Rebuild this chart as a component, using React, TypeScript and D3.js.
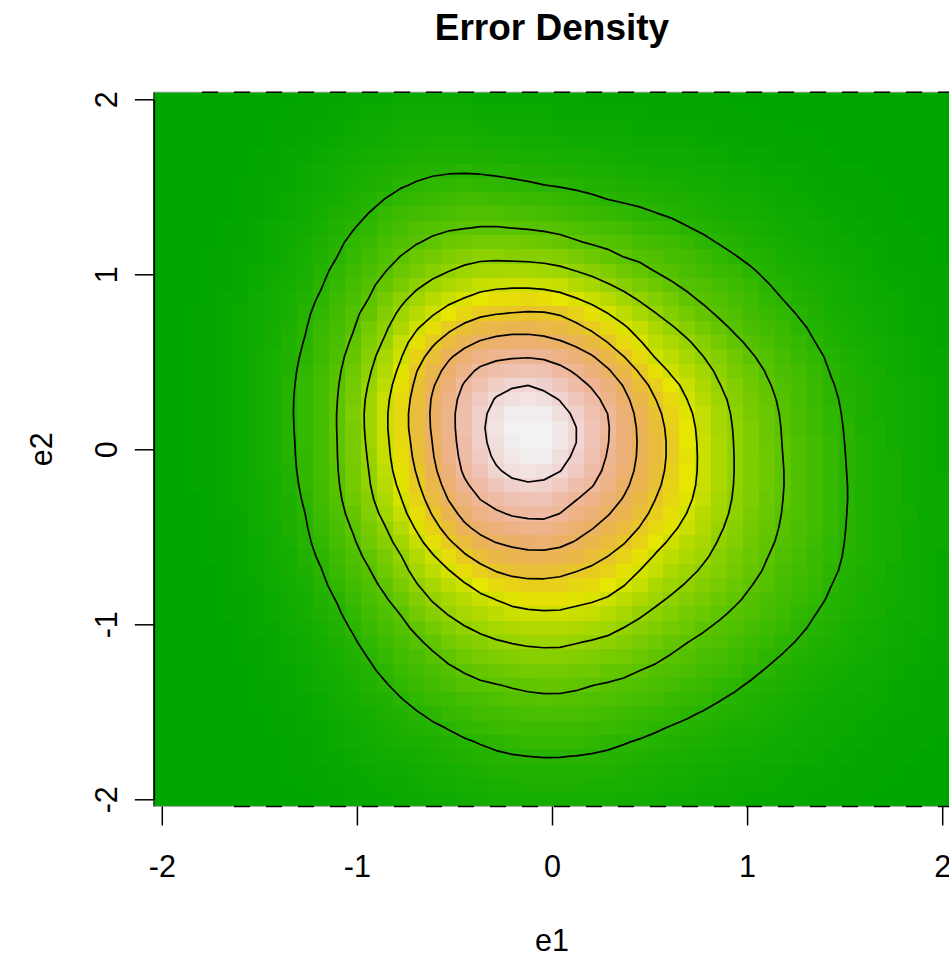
import React, { useEffect, useRef } from "react";
import * as d3 from "d3";

// kde grid: 50 x 50 points over [-2, 2] on both axes
const gridSize = 50;
const gridRange = [-2, 2];
const tickValues = [-2, -1, 0, 1, 2];
const colorCount = 100;

// contour levels on the plot, and where / how high the density peaks
const levels = [0.02, 0.04, 0.06, 0.08, 0.1, 0.12, 0.14, 0.16];
const peakDensity = 0.172;
const peakAt = [-0.11, 0.09];

// contour lines, [e1, e2]
const level002 = [
  [-0.2, 1.54], [-0.456, 1.573], [-0.615, 1.554], [-0.77, 1.49], [-0.87, 1.42],
  [-1.01, 1.26], [-1.15, 0.99], [-1.23, 0.78], [-1.29, 0.52], [-1.32, 0.2],
  [-1.31, 0.0], [-1.27, -0.34], [-1.15, -0.76], [-1.03, -1.03], [-0.87, -1.3],
  [-0.74, -1.45], [-0.53, -1.6], [-0.205, -1.74], [0.015, -1.76], [0.225, -1.73],
  [0.56, -1.6], [0.84, -1.45], [1.08, -1.26], [1.28, -1.05], [1.46, -0.7],
  [1.51, -0.38], [1.5, 0.0], [1.44, 0.38], [1.35, 0.61], [1.18, 0.86],
  [1.01, 1.05], [0.84, 1.18], [0.56, 1.34], [0.31, 1.42], [0.015, 1.5],
];
const level004 = [
  [-0.198, 1.263], [-0.37, 1.27], [-0.615, 1.21], [-0.78, 1.1], [-0.94, 0.86],
  [-1.05, 0.55], [-1.1, 0.27], [-1.1, 0.0], [-1.05, -0.38], [-0.94, -0.67],
  [-0.8, -0.91], [-0.615, -1.14], [-0.46, -1.27], [-0.205, -1.36], [0.015, -1.39],
  [0.205, -1.35], [0.46, -1.26], [0.7, -1.1], [1.01, -0.8], [1.16, -0.44],
  [1.18, 0.0], [1.16, 0.21], [1.08, 0.46], [0.92, 0.67], [0.75, 0.84],
  [0.5, 1.03], [0.24, 1.15], [0.015, 1.225],
];
const level006 = [
  [-0.2, 1.07], [-0.37, 1.07], [-0.56, 1.0], [-0.74, 0.86], [-0.87, 0.61],
  [-0.95, 0.33], [-0.95, 0.0], [-0.91, -0.29], [-0.79, -0.57], [-0.64, -0.84],
  [-0.46, -1.0], [-0.24, -1.1], [0.015, -1.13], [0.12, -1.11], [0.33, -1.04],
  [0.53, -0.895], [0.79, -0.63], [0.91, -0.32], [0.93, 0.0], [0.89, 0.29],
  [0.77, 0.54], [0.53, 0.78], [0.24, 0.97], [0.015, 1.05],
];
const level008 = [
  [-0.2, 0.92], [-0.38, 0.89], [-0.53, 0.82], [-0.7, 0.67], [-0.8, 0.42],
  [-0.84, 0.14], [-0.83, 0.0], [-0.77, -0.285], [-0.615, -0.59], [-0.43, -0.77],
  [-0.225, -0.885], [0.015, -0.92], [0.12, -0.895], [0.29, -0.84], [0.53, -0.59],
  [0.7, -0.34], [0.74, 0.0], [0.69, 0.29], [0.53, 0.515], [0.33, 0.745],
  [0.155, 0.85], [0.015, 0.9],
];
const level010 = [
  [-0.2, 0.78], [-0.395, 0.745], [-0.55, 0.65], [-0.67, 0.5], [-0.72, 0.33],
  [-0.73, 0.06], [-0.72, 0.0], [-0.67, -0.23], [-0.53, -0.51], [-0.36, -0.66],
  [-0.19, -0.73], [0.015, -0.73], [0.12, -0.7], [0.36, -0.55], [0.53, -0.285],
  [0.585, 0.0], [0.53, 0.29], [0.395, 0.5], [0.19, 0.68], [0.015, 0.775],
];
const level012 = [
  [-0.2, 0.66], [-0.395, 0.61], [-0.53, 0.51], [-0.61, 0.345], [-0.625, 0.137],
  [-0.61, 0.0], [-0.55, -0.25], [-0.41, -0.46], [-0.205, -0.56], [0.015, -0.57],
  [0.225, -0.44], [0.38, -0.245], [0.435, 0.0], [0.43, 0.14], [0.36, 0.37],
  [0.205, 0.54], [0.015, 0.63],
];
const level014 = [
  [-0.2, 0.52], [-0.37, 0.48], [-0.46, 0.37], [-0.5, 0.14], [-0.49, 0.0],
  [-0.45, -0.17], [-0.33, -0.32], [-0.12, -0.4], [0.015, -0.39], [0.07, -0.33],
  [0.225, -0.19], [0.285, 0.0], [0.27, 0.25], [0.155, 0.4], [0.015, 0.5],
];
const level016 = [
  [-0.12, 0.366], [-0.28, 0.31], [-0.35, 0.127], [-0.33, 0.0], [-0.205, -0.17],
  [-0.12, -0.19], [0.015, -0.15], [0.1, -0.04], [0.127, 0.108], [0.05, 0.27],
  [-0.015, 0.325],
];
const traces = [level002, level004, level006, level008, level010, level012, level014, level016];

// R's hsv() and terrain.colors()
const hsv = (h, s, v) => {
  const i = Math.floor(h * 6) % 6;
  const f = h * 6 - Math.floor(h * 6);
  const p = v * (1 - s), q = v * (1 - s * f), t = v * (1 - s * (1 - f));
  const rgb = [[v, t, p], [q, v, p], [p, v, t], [p, q, v], [t, p, v], [v, p, q]][i];
  return d3.rgb(...rgb.map((c) => Math.floor(255 * c + 0.5))).formatHex();
};

const terrainColors = (n) => {
  const k = Math.floor(n / 2);
  const seq = (a, b, len) => d3.range(len).map((i) => (len === 1 ? a : a + ((b - a) * i) / (len - 1)));
  const h1 = seq(4 / 12, 2 / 12, k), s1 = seq(1, 1, k), v1 = seq(0.65, 0.9, k);
  const h2 = seq(2 / 12, 0, n - k + 1).slice(1);
  const s2 = seq(1, 0, n - k + 1).slice(1);
  const v2 = seq(0.9, 0.95, n - k + 1).slice(1);
  return [
    ...h1.map((h, i) => hsv(h, s1[i], v1[i])),
    ...h2.map((h, i) => hsv(h, s2[i], v2[i])),
  ];
};

// radius of a traced contour as a smooth function of the angle around the peak
const radiusProfile = (points, cx, cy) => {
  const polar = points
    .map(([px, py]) => [Math.atan2(py - cy, px - cx), Math.hypot(px - cx, py - cy)])
    .sort((a, b) => a[0] - b[0]);
  const n = polar.length;
  const TAU = 2 * Math.PI;
  const ring = [
    [polar[n - 2][0] - TAU, polar[n - 2][1]],
    [polar[n - 1][0] - TAU, polar[n - 1][1]],
    ...polar,
    [polar[0][0] + TAU, polar[0][1]],
    [polar[1][0] + TAU, polar[1][1]],
  ];
  const slope = (i) => (ring[i + 1][1] - ring[i - 1][1]) / (ring[i + 1][0] - ring[i - 1][0]);
  const bisect = d3.bisector((d) => d[0]).right;
  return (a) => {
    const i = Math.min(Math.max(bisect(ring, a), 2), ring.length - 2);
    const [a0, r0] = ring[i - 1];
    const [a1, r1] = ring[i];
    const h = a1 - a0;
    const t = (a - a0) / h;
    const m0 = slope(i - 1) * h;
    const m1 = slope(i) * h;
    const t2 = t * t, t3 = t2 * t;
    return (2 * t3 - 3 * t2 + 1) * r0 + (t3 - 2 * t2 + t) * m0 + (-2 * t3 + 3 * t2) * r1 + (t3 - t2) * m1;
  };
};

const App = () => {
  const svgRef = useRef(null);

  useEffect(() => {
    const width = 949;
    const height = 957;
    const font = "'Liberation Sans', Arial, Helvetica, sans-serif";

    const svg = d3.select(svgRef.current);
    svg.selectAll("*").remove();
    svg.attr("width", width).attr("height", height).style("font-family", font);

    const step = (gridRange[1] - gridRange[0]) / (gridSize - 1);
    const gx = d3.range(gridSize).map((i) => gridRange[0] + i * step);

    const x = d3.scaleLinear().domain(gridRange).range([161.8, 942.2]);
    const y = d3.scaleLinear().domain(gridRange).range([799.3, 99.3]);

    // density surface rebuilt from the traced contours
    const [cx, cy] = peakAt;
    const profiles = traces.map((t) => radiusProfile(t, cx, cy));
    const density = (e1, e2) => {
      const r = Math.hypot(e1 - cx, e2 - cy);
      const a = Math.atan2(e2 - cy, e1 - cx);
      const R = profiles.map((p) => p(a));
      if (r >= R[0]) {
        const twoS2 = (R[0] * R[0] - R[1] * R[1]) / Math.log(levels[1] / levels[0]);
        return levels[0] * Math.exp(-(r * r - R[0] * R[0]) / twoS2);
      }
      for (let k = 0; k < levels.length - 1; k++) {
        if (r >= R[k + 1]) {
          const t = (R[k] - r) / (R[k] - R[k + 1]);
          return levels[k] + t * (levels[k + 1] - levels[k]);
        }
      }
      const last = levels.length - 1;
      const u = r / R[last];
      return peakDensity - (peakDensity - levels[last]) * u * u;
    };

    const values = [];
    gx.forEach((e2) => gx.forEach((e1) => values.push(density(e1, e2))));

    const colors = terrainColors(colorCount);
    const color = d3.scaleQuantize().domain(d3.extent(values)).range(colors);

    const plotLeft = x(gridRange[0] - step / 2);
    const plotRight = x(gridRange[1] + step / 2);
    const plotTop = y(gridRange[1] + step / 2);
    const plotBottom = y(gridRange[0] - step / 2);

    // image cells
    const cells = [];
    gx.forEach((e2, j) => gx.forEach((e1, i) => cells.push({ e1, e2, v: values[j * gridSize + i] })));
    svg
      .append("g")
      .attr("shape-rendering", "crispEdges")
      .selectAll("rect")
      .data(cells)
      .enter()
      .append("rect")
      .attr("x", (d) => x(d.e1 - step / 2))
      .attr("y", (d) => y(d.e2 + step / 2))
      .attr("width", (d) => x(d.e1 + step / 2) - x(d.e1 - step / 2))
      .attr("height", (d) => y(d.e2 - step / 2) - y(d.e2 + step / 2))
      .attr("fill", (d) => color(d.v));

    // contour lines
    const toData = (c) => gridRange[0] + (c - 0.5) * step;
    const path = d3.geoPath(
      d3.geoTransform({
        point(px, py) {
          this.stream.point(x(toData(px)), y(toData(py)));
        },
      })
    );
    const contours = d3.contours().size([gridSize, gridSize]).thresholds(levels)(values);
    svg
      .append("g")
      .selectAll("path")
      .data(contours)
      .enter()
      .append("path")
      .attr("d", path)
      .attr("fill", "none")
      .attr("stroke", "#000")
      .attr("stroke-width", 1.7)
      .attr("stroke-linejoin", "round");

    // frame edges (top and bottom look broken in the original)
    [plotTop, plotBottom].forEach((yy, k) => {
      svg
        .append("line")
        .attr("x1", plotLeft)
        .attr("x2", plotRight)
        .attr("y1", yy)
        .attr("y2", yy)
        .attr("stroke", "#a8a8a8")
        .attr("stroke-width", 1);
      svg
        .append("line")
        .attr("x1", k === 0 ? 202 : 234)
        .attr("x2", plotRight)
        .attr("y1", yy)
        .attr("y2", yy)
        .attr("stroke", "#000")
        .attr("stroke-width", 1.5)
        .attr("stroke-dasharray", "16 16");
    });
    svg
      .append("line")
      .attr("x1", plotLeft)
      .attr("x2", plotLeft)
      .attr("y1", plotTop)
      .attr("y2", plotBottom)
      .attr("stroke", "#222")
      .attr("stroke-width", 1.2);

    // axes
    const xAxis = svg
      .append("g")
      .attr("transform", `translate(0,${plotBottom})`)
      .call(
        d3.axisBottom(x).tickValues(tickValues).tickSize(19).tickSizeOuter(0).tickFormat((d) => String(d))
      );
    xAxis.select(".domain").remove();
    xAxis.selectAll("line").attr("stroke-width", 1.5);
    xAxis
      .selectAll("text")
      .attr("y", 71)
      .attr("dy", null)
      .attr("fill", "#000")
      .style("font-size", "30.5px")
      .style("font-family", font);

    const yAxis = svg
      .append("g")
      .attr("transform", `translate(${plotLeft},0)`)
      .call(
        d3.axisLeft(y).tickValues(tickValues).tickSize(19).tickSizeOuter(0).tickFormat((d) => String(d))
      );
    yAxis.select(".domain").attr("stroke-width", 1.5);
    yAxis.selectAll("line").attr("stroke-width", 1.5);
    yAxis
      .selectAll("text")
      .attr("x", null)
      .attr("dy", null)
      .attr("text-anchor", "middle")
      .attr("transform", "translate(-37,0) rotate(-90)")
      .attr("fill", "#000")
      .style("font-size", "30.5px")
      .style("font-family", font);

    // title and axis labels
    svg
      .append("text")
      .attr("x", x(0))
      .attr("y", 40)
      .attr("text-anchor", "middle")
      .attr("font-size", "37px")
      .attr("font-weight", "bold")
      .text("Error Density");

    svg
      .append("text")
      .attr("x", x(0))
      .attr("y", 951)
      .attr("text-anchor", "middle")
      .attr("font-size", "30.5px")
      .text("e1");

    svg
      .append("text")
      .attr("transform", `translate(52,${y(0)}) rotate(-90)`)
      .attr("text-anchor", "middle")
      .attr("font-size", "30.5px")
      .text("e2");
  }, []);

  return <svg ref={svgRef} style={{ position: "absolute", left: 0, top: 0, background: "#fff" }} />;
};

export default App;
